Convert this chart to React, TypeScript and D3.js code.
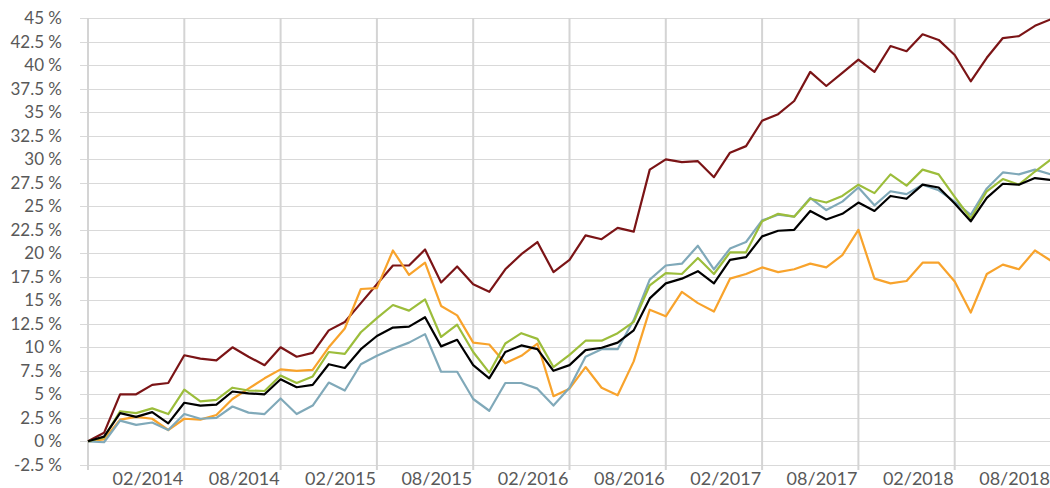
import React, { useEffect, useRef } from 'react';
import * as d3 from 'd3';

const width: number = 1050;
const height: number = 488;

// one point per month, 08/2013 .. 08/2018
const monthCount: number = 61;

// labels sit on every sixth month, starting at 02/2014
const tickLabels: string[] = ['02/2014', '08/2014', '02/2015', '08/2015', '02/2016', '08/2016', '02/2017', '08/2017', '02/2018', '08/2018'];

const darkRed: number[] = [0, 0.9, 5.0, 5.0, 6.0, 6.2, 9.15, 8.8, 8.6, 10.0, 9.0, 8.1, 10.0, 9.0, 9.4, 11.8, 12.7, 14.7, 16.7, 18.7, 18.7, 20.4, 16.9, 18.6, 16.7, 15.9, 18.3, 19.9, 21.2, 18.0, 19.3, 21.9, 21.5, 22.7, 22.3, 28.9, 30.0, 29.7, 29.8, 28.1, 30.7, 31.4, 34.1, 34.8, 36.2, 39.3, 37.8, 39.2, 40.6, 39.3, 42.05, 41.5, 43.3, 42.7, 41.1, 38.3, 40.8, 42.9, 43.1, 44.2, 44.9];
const orange: number[] = [0, 0.2, 2.3, 2.6, 2.4, 1.2, 2.4, 2.3, 2.8, 4.5, 5.6, 6.7, 7.65, 7.5, 7.6, 10.0, 12.0, 16.2, 16.3, 20.3, 17.7, 19.0, 14.4, 13.4, 10.5, 10.3, 8.3, 9.1, 10.4, 4.8, 5.6, 7.9, 5.7, 4.9, 8.5, 14.0, 13.3, 15.9, 14.7, 13.8, 17.3, 17.8, 18.5, 18.0, 18.3, 18.9, 18.5, 19.8, 22.5, 17.3, 16.8, 17.05, 19.0, 19.0, 17.0, 13.7, 17.8, 18.8, 18.3, 20.3, 19.2];
const green: number[] = [0, 0.4, 3.2, 3.0, 3.5, 2.9, 5.5, 4.25, 4.4, 5.7, 5.4, 5.35, 7.0, 6.2, 6.9, 9.5, 9.3, 11.6, 13.1, 14.5, 13.9, 15.1, 11.1, 12.4, 9.5, 7.3, 10.4, 11.5, 10.9, 7.9, 9.2, 10.7, 10.7, 11.5, 12.7, 16.6, 17.9, 17.8, 19.5, 17.8, 20.1, 20.1, 23.4, 24.2, 23.9, 25.8, 25.4, 26.1, 27.3, 26.4, 28.4, 27.2, 28.9, 28.4, 26.0, 23.7, 26.6, 27.9, 27.3, 28.7, 30.0];
const blue: number[] = [0, -0.1, 2.2, 1.75, 2.0, 1.2, 2.9, 2.4, 2.5, 3.7, 3.05, 2.9, 4.55, 2.9, 3.8, 6.25, 5.4, 8.2, 9.1, 9.85, 10.5, 11.4, 7.4, 7.4, 4.5, 3.25, 6.2, 6.2, 5.6, 3.8, 5.7, 9.0, 9.8, 9.8, 12.9, 17.2, 18.7, 18.9, 20.8, 18.3, 20.5, 21.2, 23.5, 24.1, 23.9, 25.9, 24.6, 25.5, 27.0, 25.1, 26.6, 26.3, 27.3, 26.7, 25.5, 24.1, 26.9, 28.6, 28.4, 28.9, 28.4];
const black: number[] = [0, 0.5, 3.0, 2.6, 3.1, 1.9, 4.1, 3.8, 3.9, 5.3, 5.1, 5.0, 6.6, 5.75, 6.0, 8.2, 7.8, 9.8, 11.2, 12.1, 12.2, 13.2, 10.1, 10.8, 8.1, 6.7, 9.5, 10.2, 9.8, 7.5, 8.1, 9.7, 9.95, 10.5, 11.8, 15.2, 16.8, 17.3, 18.1, 16.8, 19.3, 19.6, 21.8, 22.4, 22.5, 24.5, 23.6, 24.2, 25.4, 24.5, 26.1, 25.8, 27.3, 27.0, 25.3, 23.4, 25.9, 27.4, 27.3, 28.0, 27.8];

const seriesList = [
  { name: 'darkRed', values: darkRed, color: '#7b1416' },
  { name: 'orange', values: orange, color: '#f8a32c' },
  { name: 'blue', values: blue, color: '#80a9b9' },
  { name: 'green', values: green, color: '#9cbd3b' },
  { name: 'black', values: black, color: '#000000' },
];

const font: string = 'Lato, "Open Sans", sans-serif';

const drawChart = (svgEl: SVGSVGElement) => {
  const svg: any = d3.select(svgEl);
  svg.selectAll('*').remove();

  // evenly spaced months, like a category axis
  var xScale: any = d3.scaleLinear()
                      .domain([0, monthCount - 1])
                      .range([88, 1051]);

  var yScale: any = d3.scaleLinear()
                      .domain([-2.5, 45])
                      .range([464.8, 18.3]);

  const yTicks: number[] = d3.range(-2.5, 45.01, 2.5);
  const xGrid: number[] = d3.range(0, monthCount, 6);

  // horizontal grid
  svg.append('g')
    .selectAll('line')
    .data(yTicks)
    .enter()
    .append('line')
    .attr('x1', 80)
    .attr('x2', width)
    .attr('y1', (d: number) => Math.round(yScale(d)) + 0.5)
    .attr('y2', (d: number) => Math.round(yScale(d)) + 0.5)
    .attr('stroke', '#d9d9d9')
    .attr('stroke-width', 1);

  // vertical grid, running down past the axis as ticks
  svg.append('g')
    .selectAll('line')
    .data(xGrid)
    .enter()
    .append('line')
    .attr('x1', (d: number) => xScale(d))
    .attr('x2', (d: number) => xScale(d))
    .attr('y1', 18)
    .attr('y2', 470)
    .attr('stroke', '#d4d4d4')
    .attr('stroke-width', 2);

  // y labels
  svg.append('g')
    .selectAll('text')
    .data(yTicks)
    .enter()
    .append('text')
    .attr('x', 62)
    .attr('y', (d: number) => yScale(d))
    .attr('dy', '0.36em')
    .attr('text-anchor', 'end')
    .attr('font-family', font)
    .attr('font-size', 17)
    .attr('fill', '#595959')
    .text((d: number) => `${d} %`);

  // x labels end at their gridline
  svg.append('g')
    .selectAll('text')
    .data(tickLabels)
    .enter()
    .append('text')
    .attr('x', (d: string, i: number) => xScale(xGrid[i + 1]) - 1)
    .attr('y', 485)
    .attr('text-anchor', 'end')
    .attr('font-family', font)
    .attr('font-size', 18)
    .attr('fill', '#595959')
    .text((d: string) => d);

  const line: any = d3.line<number>()
                      .x((d: number, i: number) => xScale(i))
                      .y((d: number) => yScale(d));

  svg.append('g')
    .selectAll('path')
    .data(seriesList)
    .enter()
    .append('path')
    .attr('d', (d: any) => line(d.values))
    .attr('fill', 'none')
    .attr('stroke', (d: any) => d.color)
    .attr('stroke-width', 2.2)
    .attr('stroke-linejoin', 'round');
};

export default function App() {
  const ref = useRef<SVGSVGElement>(null);

  useEffect(() => {
    if (ref.current) drawChart(ref.current);
  }, []);

  return (
    <svg
      ref={ref}
      width={width}
      height={height}
      style={{ position: 'absolute', left: 0, top: 0, background: '#ffffff' }}
    />
  );
}
